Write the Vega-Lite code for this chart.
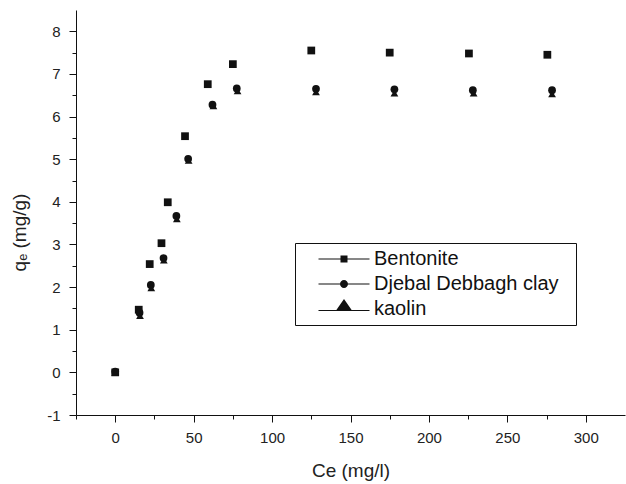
{
  "$schema": "https://vega.github.io/schema/vega-lite/v6.json",
  "autosize": "none",
  "width": 549,
  "height": 405,
  "padding": {"left": 76, "top": 10, "right": 1, "bottom": 69},
  "background": "white",
  "config": {
    "view": {"stroke": null},
    "font": "Liberation Sans",
    "axis": {"grid": false, "domainColor": "#111", "tickColor": "#111", "labelColor": "#222", "titleColor": "#222", "labelFont": "Liberation Sans", "titleFont": "Liberation Sans", "labelFontSize": 15, "titleFontSize": 19, "titleFontWeight": "normal"}
  },
  "data": {"values": [
    {"material": "Bentonite", "ce": 0, "qe": 0},
    {"material": "Bentonite", "ce": 15, "qe": 1.47},
    {"material": "Bentonite", "ce": 22, "qe": 2.54},
    {"material": "Bentonite", "ce": 29.5, "qe": 3.03},
    {"material": "Bentonite", "ce": 33.5, "qe": 3.99},
    {"material": "Bentonite", "ce": 44.5, "qe": 5.54},
    {"material": "Bentonite", "ce": 59, "qe": 6.76},
    {"material": "Bentonite", "ce": 75, "qe": 7.23},
    {"material": "Bentonite", "ce": 125, "qe": 7.55},
    {"material": "Bentonite", "ce": 175, "qe": 7.5},
    {"material": "Bentonite", "ce": 225.5, "qe": 7.48},
    {"material": "Bentonite", "ce": 275.5, "qe": 7.45},
    {"material": "Djebal Debbagh clay", "ce": 0, "qe": 0.02},
    {"material": "Djebal Debbagh clay", "ce": 15.5, "qe": 1.4},
    {"material": "Djebal Debbagh clay", "ce": 22.7, "qe": 2.05},
    {"material": "Djebal Debbagh clay", "ce": 30.8, "qe": 2.68},
    {"material": "Djebal Debbagh clay", "ce": 39, "qe": 3.67},
    {"material": "Djebal Debbagh clay", "ce": 46.5, "qe": 5.01},
    {"material": "Djebal Debbagh clay", "ce": 62, "qe": 6.28},
    {"material": "Djebal Debbagh clay", "ce": 77.5, "qe": 6.66},
    {"material": "Djebal Debbagh clay", "ce": 128, "qe": 6.65},
    {"material": "Djebal Debbagh clay", "ce": 178, "qe": 6.64},
    {"material": "Djebal Debbagh clay", "ce": 228, "qe": 6.62},
    {"material": "Djebal Debbagh clay", "ce": 278.5, "qe": 6.62},
    {"material": "kaolin", "ce": 0, "qe": 0},
    {"material": "kaolin", "ce": 15.8, "qe": 1.33},
    {"material": "kaolin", "ce": 23, "qe": 1.98},
    {"material": "kaolin", "ce": 31, "qe": 2.63},
    {"material": "kaolin", "ce": 39.3, "qe": 3.6},
    {"material": "kaolin", "ce": 46.8, "qe": 4.97},
    {"material": "kaolin", "ce": 62.6, "qe": 6.25},
    {"material": "kaolin", "ce": 78, "qe": 6.6},
    {"material": "kaolin", "ce": 128, "qe": 6.58},
    {"material": "kaolin", "ce": 178, "qe": 6.55},
    {"material": "kaolin", "ce": 228.5, "qe": 6.55},
    {"material": "kaolin", "ce": 278.5, "qe": 6.53}
  ]},
  "encoding": {
    "x": {"field": "ce", "type": "quantitative", "title": "Ce (mg/l)",
      "scale": {"domain": [-25, 325], "nice": false, "zero": false},
      "axis": {"values": [-25, 0, 25, 50, 75, 100, 125, 150, 175, 200, 225, 250, 275, 300],
        "labelExpr": "datum.value % 50 == 0 ? format(datum.value, 'd') : ''",
        "tickSize": {"condition": {"test": "datum.value % 50 != 0", "value": 4}, "value": 7},
        "labelPadding": 8, "titlePadding": 16, "labelFlush": false}},
    "y": {"field": "qe", "type": "quantitative", "title": "qₑ (mg/g)",
      "scale": {"domain": [-1, 8.5], "nice": false, "zero": false},
      "axis": {"values": [-1, -0.5, 0, 0.5, 1, 1.5, 2, 2.5, 3, 3.5, 4, 4.5, 5, 5.5, 6, 6.5, 7, 7.5, 8],
        "labelExpr": "datum.value % 1 == 0 ? replace(format(datum.value, 'd'), '\u2212', '-') : ''",
        "tickSize": {"condition": {"test": "datum.value % 1 != 0", "value": 4}, "value": 7},
        "labelPadding": 9, "titlePadding": 17, "titleY": 222, "labelFlush": false}}
  },
  "layer": [
    {
      "mark": {"type": "point", "filled": true, "opacity": 1, "color": "#111", "size": 60},
      "encoding": {
        "shape": {"field": "material", "type": "nominal",
          "scale": {"domain": ["Bentonite", "Djebal Debbagh clay", "kaolin"], "range": ["square", "circle", "triangle-up"]},
          "legend": null}
      }
    },
    {
      "mark": {"type": "point", "filled": true, "opacity": 0, "color": "#111", "size": 60},
      "encoding": {
        "shape": {"field": "material", "type": "nominal",
          "scale": {"domain": ["Bentonite", "Djebal Debbagh clay", "kaolin"],
            "range": ["M1.5,-0.1H11.7V0.1H1.5ZM5.9,-0.7H7.3V0.7H5.9Z", "M1.5,-0.1H11.7V0.1H1.5ZM7.4,0A0.8,0.8,0,1,1,5.8,0A0.8,0.8,0,1,1,7.4,0Z", "M1.5,0.2H11.7V0.4H1.5ZM6.6,-2L8.2,0.3L5,0.3Z"]},
          "legend": {"title": "....", "titleOrient": "right", "titleColor": "white", "titleFontSize": 8, "titlePadding": 2,
            "orient": "none", "legendX": 219, "legendY": 233,
            "strokeColor": "#111", "fillColor": "white", "padding": 6, "labelLimit": 400,
            "labelFontSize": 20, "labelFont": "Liberation Sans", "labelColor": "#111", "labelOffset": 53,
            "symbolSize": 100, "symbolOpacity": 1, "symbolFillColor": "#111", "symbolStrokeWidth": 0, "rowPadding": 5}}
      }
    }
  ],
  "resolve": {"scale": {"shape": "independent"}, "legend": {"shape": "independent"}}
}
